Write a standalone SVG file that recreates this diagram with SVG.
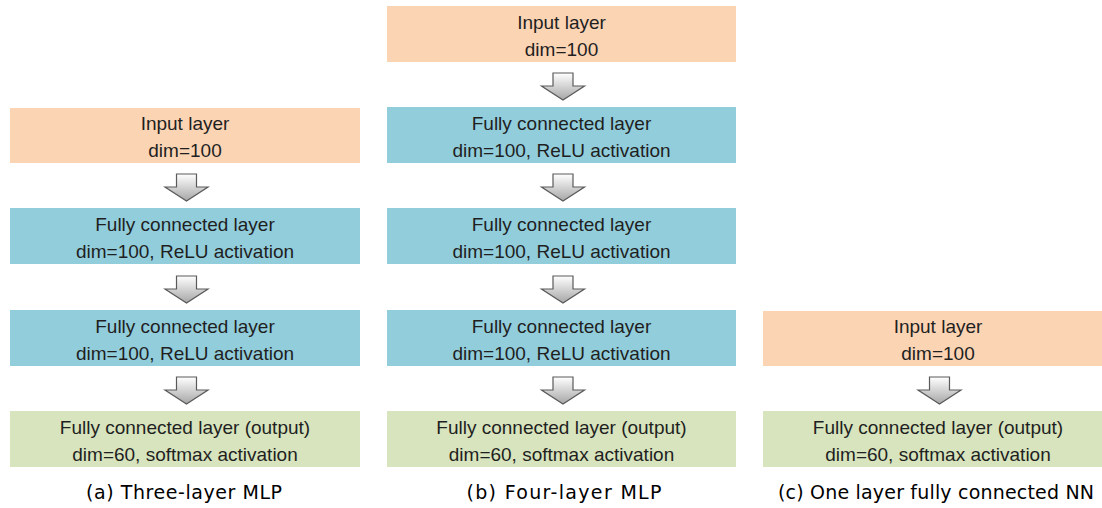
<svg xmlns="http://www.w3.org/2000/svg" width="1102" height="508" viewBox="0 0 1102 508">
<defs>
<linearGradient id="ag" x1="0" y1="0" x2="0" y2="1">
<stop offset="0" stop-color="#ffffff"/>
<stop offset="1" stop-color="#a6a6a6"/>
</linearGradient>
<path id="arr" d="M-10,0 H10 V13 H21.5 L0,27 L-21.5,13 H-10 Z"/>
</defs>
<style>
.in{fill:#fbd4b4}
.fc{fill:#92cddc}
.out{fill:#d7e4bd}
text{font-family:"Liberation Sans",Arial,sans-serif;font-size:19px;fill:#1f1f1f;text-anchor:middle}
.cap{font-family:"DejaVu Sans","Liberation Sans",sans-serif;font-size:19px;fill:#000}
.a{fill:url(#ag);stroke:#5a5a5a;stroke-width:1.2;stroke-linejoin:miter}
</style>
<rect width="1102" height="508" fill="#fff"/>
<g id="a_input"><rect class="in" x="10" y="108" width="350" height="55"/><text x="185" y="130">Input layer</text><text x="185" y="157">dim=100</text></g>
<g id="a_fc1"><rect class="fc" x="10" y="208" width="350" height="56"/><text x="185" y="231">Fully connected layer</text><text x="185" y="258">dim=100, ReLU activation</text></g>
<g id="a_fc2"><rect class="fc" x="10" y="310" width="350" height="56"/><text x="185" y="333">Fully connected layer</text><text x="185" y="360">dim=100, ReLU activation</text></g>
<g id="a_out"><rect class="out" x="10" y="411" width="350" height="56"/><text x="185" y="434">Fully connected layer (output)</text><text x="185" y="461">dim=60, softmax activation</text></g>

<g id="b_input"><rect class="in" x="387" y="6" width="349" height="56"/><text x="561.5" y="29">Input layer</text><text x="561.5" y="56">dim=100</text></g>
<g id="b_fc1"><rect class="fc" x="387" y="107" width="349" height="56"/><text x="561.5" y="130">Fully connected layer</text><text x="561.5" y="157">dim=100, ReLU activation</text></g>
<g id="b_fc2"><rect class="fc" x="387" y="208" width="349" height="56"/><text x="561.5" y="231">Fully connected layer</text><text x="561.5" y="258">dim=100, ReLU activation</text></g>
<g id="b_fc3"><rect class="fc" x="387" y="310" width="349" height="56"/><text x="561.5" y="333">Fully connected layer</text><text x="561.5" y="360">dim=100, ReLU activation</text></g>
<g id="b_out"><rect class="out" x="387" y="411" width="349" height="56"/><text x="561.5" y="434">Fully connected layer (output)</text><text x="561.5" y="461">dim=60, softmax activation</text></g>

<g id="c_input"><rect class="in" x="763" y="311" width="350" height="55"/><text x="938" y="333">Input layer</text><text x="938" y="360">dim=100</text></g>
<g id="c_out"><rect class="out" x="763" y="411" width="350" height="56"/><text x="938" y="434">Fully connected layer (output)</text><text x="938" y="461">dim=60, softmax activation</text></g>

<g id="connectors">
<use href="#arr" class="a" x="186.5" y="174"/>
<use href="#arr" class="a" x="186.5" y="276"/>
<use href="#arr" class="a" x="186.5" y="377"/>
<use href="#arr" class="a" x="563" y="73"/>
<use href="#arr" class="a" x="563" y="174"/>
<use href="#arr" class="a" x="563" y="276"/>
<use href="#arr" class="a" x="563" y="377"/>
<use href="#arr" class="a" x="939.5" y="377"/>
</g>

<g id="captions">
<text class="cap" x="184" y="499" textLength="196" lengthAdjust="spacing">(a) Three-layer MLP</text>
<text class="cap" x="564" y="499" textLength="195" lengthAdjust="spacing">(b) Four-layer MLP</text>
<text class="cap" x="936" y="499" textLength="316" lengthAdjust="spacing">(c) One layer fully connected NN</text>
</g>
</svg>
